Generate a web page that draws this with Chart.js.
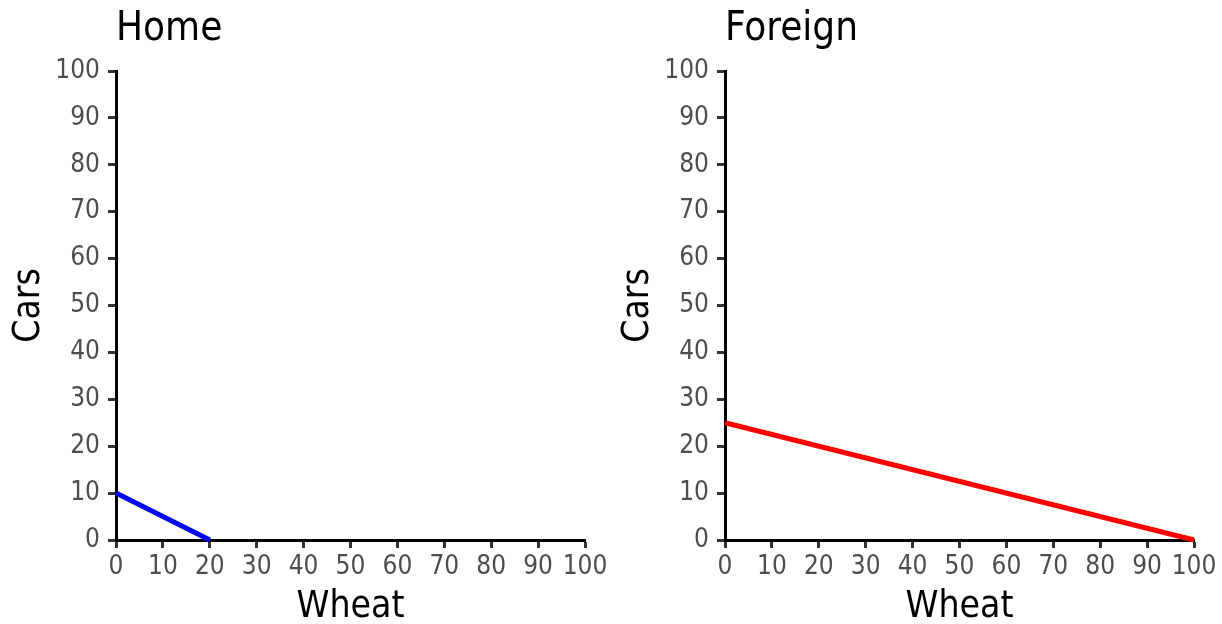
<!DOCTYPE html>
<html>
<head>
<meta charset="utf-8">
<script src="https://cdn.jsdelivr.net/npm/chart.js@4"></script>
<style>
  html, body { margin: 0; padding: 0; background: #fff; }
  body { width: 1222px; height: 624px; position: relative; overflow: hidden; }
  .panel { position: absolute; top: 0; width: 609px; height: 624px; }
  #home-wrap { left: 0; }
  #foreign-wrap { left: 609px; }
</style>
</head>
<body>
<div class="panel" id="home-wrap"><canvas id="home"></canvas></div>
<div class="panel" id="foreign-wrap"><canvas id="foreign"></canvas></div>
<script>
// data
const panelTitles = ['Home', 'Foreign'];
const homeWheat = [0, 20];
const homeCars = [10, 0];
const foreignWheat = [0, 100];
const foreignCars = [25, 0];
const axisMin = 0;
const axisMax = 100;
const tickStep = 10;

const FONT = "'DejaVu Sans Condensed', 'Liberation Sans Narrow', 'Roboto', sans-serif";

function makeChart(id, title, xs, ys, color) {
  const points = xs.map((x, i) => ({ x: x, y: ys[i] }));
  const ctx = document.getElementById(id).getContext('2d');

  const axisCommon = {
    type: 'linear',
    min: axisMin,
    max: axisMax,
    grid: {
      drawOnChartArea: false,
      drawTicks: true,
      tickLength: 8,
      tickWidth: 3,
      tickColor: '#333333'
    },
    border: { display: true, color: '#000000', width: 3 },
    ticks: {
      stepSize: tickStep,
      autoSkip: false,
      maxRotation: 0,
      color: '#4d4d4d',
      font: { family: FONT, size: 26 }
    }
  };

  return new Chart(ctx, {
    type: 'scatter',
    data: {
      datasets: [{
        data: points,
        showLine: true,
        borderColor: color,
        borderWidth: 5,
        pointRadius: 0,
        fill: false,
        clip: false
      }]
    },
    options: {
      responsive: true,
      maintainAspectRatio: false,
      animation: false,
      events: [],
      layout: { padding: { left: 0, right: 24, top: 0, bottom: 0 } },
      plugins: {
        legend: { display: false },
        tooltip: { enabled: false },
        title: {
          display: true,
          text: title,
          align: 'start',
          fullSize: false,
          color: '#000000',
          font: { family: FONT, size: 40, weight: 'normal', lineHeight: 1.2 },
          padding: { top: 6, bottom: 17 }
        }
      },
      scales: {
        x: Object.assign({}, axisCommon, {
          position: 'bottom',
          ticks: Object.assign({}, axisCommon.ticks, { padding: 4 }),
          title: {
            display: true,
            text: 'Wheat',
            color: '#000000',
            font: { family: FONT, size: 37, lineHeight: 0.9 },
            padding: { top: 0, bottom: 0 }
          },
          afterFit: (scale) => {
            scale.height = 84;
            scale.paddingLeft = 0;
            scale.paddingRight = 0;
          }
        }),
        y: Object.assign({}, axisCommon, {
          position: 'left',
          ticks: Object.assign({}, axisCommon.ticks, { padding: 8 }),
          title: {
            display: true,
            text: 'Cars',
            color: '#000000',
            font: { family: FONT, size: 37, lineHeight: 1.2 },
            padding: { top: 7, bottom: 0 }
          },
          afterFit: (scale) => {
            scale.width = 116;
            scale.paddingTop = 0;
            scale.paddingBottom = 0;
          }
        })
      }
    }
  });
}

makeChart('home', panelTitles[0], homeWheat, homeCars, '#0000ff');
makeChart('foreign', panelTitles[1], foreignWheat, foreignCars, '#ff0000');
</script>
</body>
</html>
